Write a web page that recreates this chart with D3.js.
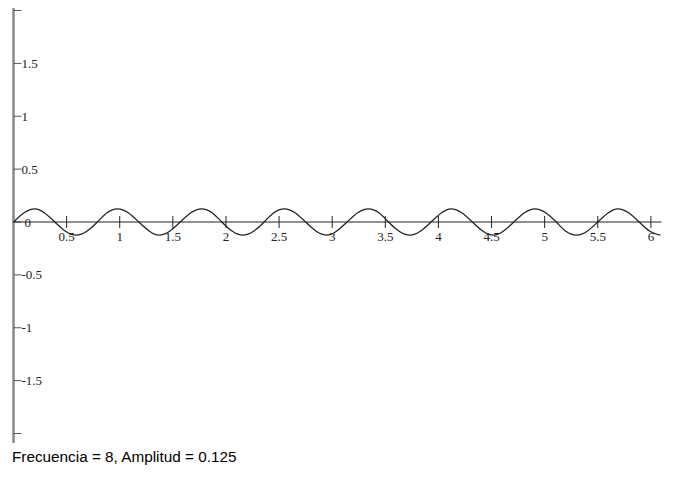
<!DOCTYPE html>
<html>
<head>
<meta charset="utf-8">
<script src="https://cdn.jsdelivr.net/npm/d3@7"></script>
<style>
  html, body { margin: 0; padding: 0; background: #fff; }
  svg { display: block; }
</style>
</head>
<body>
<div id="chart"></div>
<script>
// Curve points (x, y)
const xs = [0, 0.10, 0.20, 0.29, 0.39, 0.49, 0.59, 0.69, 0.79, 0.88, 0.98, 1.08, 1.18, 1.28, 1.37, 1.47,
  1.57, 1.67, 1.77, 1.87, 1.96, 2.06, 2.16, 2.26, 2.36, 2.45, 2.55, 2.65, 2.75, 2.85, 2.95, 3.04,
  3.14, 3.24, 3.34, 3.44, 3.53, 3.63, 3.73, 3.83, 3.93, 4.03, 4.12, 4.22, 4.32, 4.42, 4.52, 4.61,
  4.71, 4.81, 4.91, 5.01, 5.11, 5.20, 5.30, 5.40, 5.50, 5.60, 5.69, 5.79, 5.89, 5.99, 6.09];
const ys = [0, 0.088, 0.125, 0.088, 0, -0.088, -0.125, -0.088,
  0, 0.088, 0.125, 0.088, 0, -0.088, -0.125, -0.088,
  0, 0.088, 0.125, 0.088, 0, -0.088, -0.125, -0.088,
  0, 0.088, 0.125, 0.088, 0, -0.088, -0.125, -0.088,
  0, 0.088, 0.125, 0.088, 0, -0.088, -0.125, -0.088,
  0, 0.088, 0.125, 0.088, 0, -0.088, -0.125, -0.088,
  0, 0.088, 0.125, 0.088, 0, -0.088, -0.125, -0.088,
  0, 0.088, 0.125, 0.088, 0, -0.088, -0.125];
const xTicks = [0.5, 1, 1.5, 2, 2.5, 3, 3.5, 4, 4.5, 5, 5.5, 6];
const yTicks = [2, 1.5, 1, 0.5, 0, -0.5, -1, -1.5, -2];
const yTickLabels = ["", "1.5", "1", "0.5", "0", "-0.5", "-1", "-1.5", ""];
const xDomain = [0, 6.1];
const yDomain = [-2, 2];
const caption = "Frecuencia = 8, Amplitud = 0.125";

const W = 690, H = 480;
const svg = d3.select("#chart").append("svg").attr("width", W).attr("height", H);

const x = d3.scaleLinear().domain(xDomain).range([13.5, 661.5]);
const y = d3.scaleLinear().domain(yDomain).range([433.5, 10.5]);

const serif = "'Liberation Serif', 'Times New Roman', serif";

// Y axis (vertical gray line)
const x0 = x(0);
svg.append("line")
  .attr("x1", x0).attr("x2", x0)
  .attr("y1", 8).attr("y2", 443)
  .attr("stroke", "#888").attr("stroke-width", 2.5);

const yAxisG = svg.append("g");
yAxisG.selectAll("line.yt").data(yTicks).join("line")
  .attr("class", "yt")
  .attr("x1", x0).attr("x2", x0 + 8)
  .attr("y1", d => y(d)).attr("y2", d => y(d))
  .attr("stroke", "#555").attr("stroke-width", 1);
yAxisG.selectAll("text").data(yTicks).join("text")
  .attr("x", (d, i) => yTickLabels[i] === "0" ? x0 + 11 : x0 + 8)
  .attr("y", d => y(d))
  .attr("dy", "0.35em")
  .attr("font-family", serif)
  .attr("font-size", 13)
  .attr("fill", "#222")
  .text((d, i) => yTickLabels[i]);

// X axis (black line)
const yZero = y(0);
svg.append("line")
  .attr("x1", x0).attr("x2", x(xDomain[1]))
  .attr("y1", yZero).attr("y2", yZero)
  .attr("stroke", "#222").attr("stroke-width", 1);

const xAxisG = svg.append("g");
xAxisG.selectAll("line").data(xTicks).join("line")
  .attr("x1", d => x(d)).attr("x2", d => x(d))
  .attr("y1", yZero - 6).attr("y2", yZero + 6)
  .attr("stroke", "#222").attr("stroke-width", 1);
xAxisG.selectAll("text").data(xTicks).join("text")
  .attr("x", d => x(d))
  .attr("y", yZero + 19)
  .attr("text-anchor", "middle")
  .attr("font-family", serif)
  .attr("font-size", 13)
  .attr("fill", "#222")
  .text(d => String(d));

// Curve
const pts = xs.map((v, i) => [v, ys[i]]);
const line = d3.line().x(d => x(d[0])).y(d => y(d[1])).curve(d3.curveNatural);
svg.append("path")
  .attr("d", line(pts))
  .attr("fill", "none")
  .attr("stroke", "#222")
  .attr("stroke-width", 1.3);

// Caption
svg.append("text")
  .attr("x", 12).attr("y", 462)
  .attr("font-family", "'Liberation Sans', Arial, sans-serif")
  .attr("font-size", 15.3)
  .attr("fill", "#000")
  .text(caption);
</script>
</body>
</html>
